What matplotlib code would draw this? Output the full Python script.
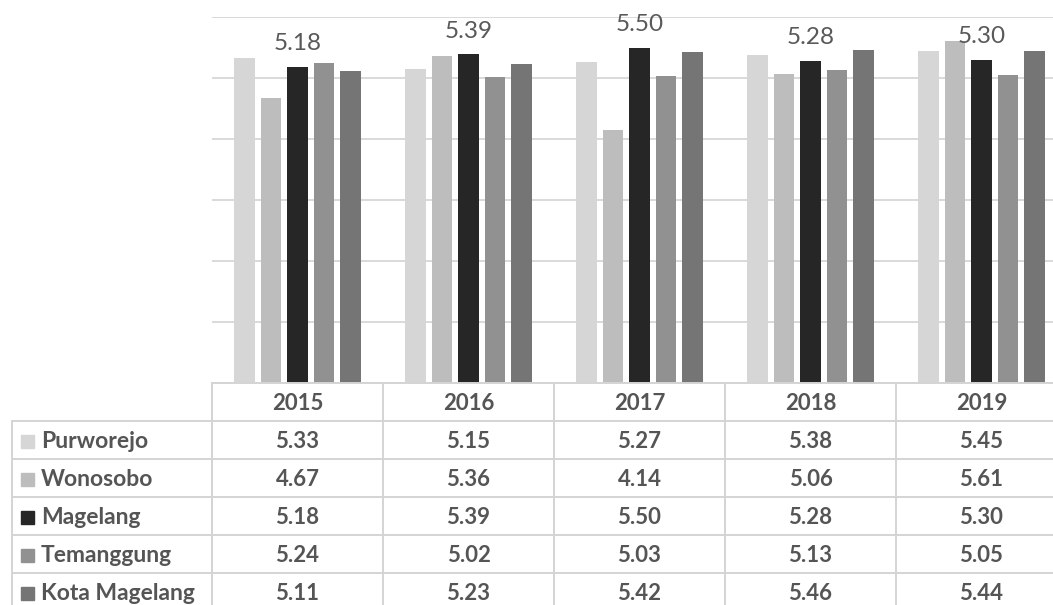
import matplotlib.pyplot as plt
import numpy as np

# data
years = ['2015', '2016', '2017', '2018', '2019']
regions = ['Purworejo', 'Wonosobo', 'Magelang', 'Temanggung', 'Kota Magelang']
purworejo = [5.33, 5.15, 5.27, 5.38, 5.45]
wonosobo = [4.67, 5.36, 4.14, 5.06, 5.61]
magelang = [5.18, 5.39, 5.50, 5.28, 5.30]
temanggung = [5.24, 5.02, 5.03, 5.13, 5.05]
kota_magelang = [5.11, 5.23, 5.42, 5.46, 5.44]

series = [purworejo, wonosobo, magelang, temanggung, kota_magelang]
colors = ['#d6d6d6', '#bdbdbd', '#262626', '#919191', '#757575']
labelled = 2  # only Magelang gets value labels

W, H = 1053, 605
plt.rcParams['font.family'] = ['Lato', 'DejaVu Sans']
fig = plt.figure(figsize=(W / 100, H / 100), dpi=100)

# pixel layout
left_px, col_px = 212, 171
top_px, base_px = 17, 383
row_px = 38

ax = fig.add_axes([left_px / W, 1 - base_px / H, 5 * col_px / W, (base_px - top_px) / H])
x = np.arange(len(years))
step, width = 0.1544, 0.12
for i, (vals, c) in enumerate(zip(series, colors)):
    pos = x + (i - 2) * step
    bars = ax.bar(pos, vals, width=width, color=c, zorder=3)
    if i == labelled:
        for b, v in zip(bars, vals):
            ax.annotate(f'{v:.2f}', (b.get_x() + b.get_width() / 2, v),
                        xytext=(0, 12), textcoords='offset points',
                        ha='center', va='baseline', fontsize=17.5,
                        color='#595959', zorder=4)
ax.set_xlim(-0.5, 4.5)
ax.set_ylim(0, 6)
ax.set_yticks(range(0, 7))
ax.yaxis.grid(True, color='#d9d9d9', lw=1.4)
ax.set_xticks([])
ax.tick_params(left=False, labelleft=False)
for s in ax.spines.values():
    s.set_visible(False)
ax.patch.set_alpha(0)

# data table drawn in pixel coordinates
tax = fig.add_axes([0, 0, 1, 1])
tax.set_xlim(0, W)
tax.set_ylim(H, 0)
tax.axis('off')
line_kw = dict(color='#d4d4d4', lw=1.4, zorder=1)
tab_left = 12
col_edges = [left_px + k * col_px for k in range(len(years) + 1)]
row_edges = [base_px + row_px * k for k in range(len(regions) + 2)]

tax.plot([left_px, W + 20], [base_px, base_px], **line_kw)
for k in range(1, len(row_edges)):
    tax.plot([tab_left, W + 20], [row_edges[k], row_edges[k]], **line_kw)
for xe in col_edges:
    tax.plot([xe, xe], [base_px, H + 10], **line_kw)
tax.plot([tab_left, tab_left], [row_edges[1], H + 10], **line_kw)

txt_kw = dict(fontsize=16, fontweight='bold', color='#555555', ha='center', va='center')
for j, yr in enumerate(years):
    tax.text(left_px + (j + 0.5) * col_px, (row_edges[0] + row_edges[1]) / 2 + 1, yr, **txt_kw)
for i, (name, vals, c) in enumerate(zip(regions, series, colors)):
    yc = (row_edges[i + 1] + row_edges[i + 2]) / 2 + 1
    tax.add_patch(plt.Rectangle((21, yc - 6.5), 13, 13, color=c, zorder=2))
    tax.text(41, yc, name, fontsize=16.5, fontweight='bold', color='#555555',
             ha='left', va='center')
    for j, v in enumerate(vals):
        tax.text(left_px + (j + 0.5) * col_px, yc, f'{v:.2f}', **txt_kw)

fig.savefig('out.png', dpi=100)
